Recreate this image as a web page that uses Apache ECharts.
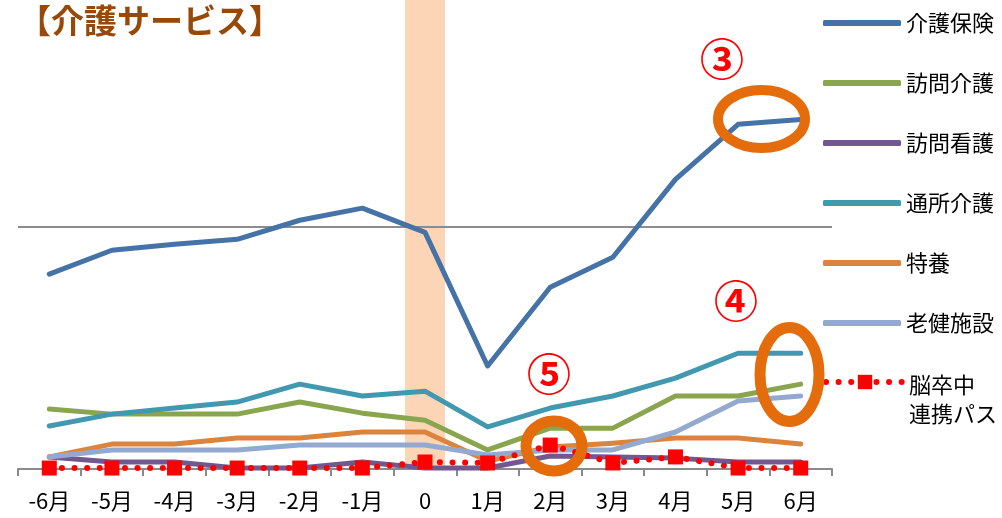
<!DOCTYPE html>
<html>
<head>
<meta charset="utf-8">
<script src="https://cdn.jsdelivr.net/npm/echarts@6/dist/echarts.min.js"></script>
<style>
html,body{margin:0;padding:0;background:#fff;}
#chart{width:1002px;height:518px;}
</style>
</head>
<body>
<div id="chart"></div>
<script>
// ---- data (index: gray reference line = 100) ----
const categories = ['-6月','-5月','-4月','-3月','-2月','-1月','0','1月','2月','3月','4月','5月','6月'];
const kaigoHoken   = [80.6, 90.5, 93.0, 95.0, 102.9, 107.9, 97.9, 42.6, 75.2, 87.6, 119.8, 142.6, 144.6];
const houmonKaigo  = [24.8, 22.7, 22.7, 22.7, 27.7, 23.1, 20.2, 7.9, 16.9, 16.9, 30.2, 30.2, 35.1];
const houmonKango  = [5.0, 2.9, 2.9, 0.4, 0.4, 2.9, 0.4, 0.4, 5.4, 5.0, 4.5, 2.9, 2.9];
const tsushoKaigo  = [17.8, 22.7, 25.2, 27.7, 35.1, 30.2, 32.2, 17.4, 25.2, 30.2, 37.6, 47.9, 47.9];
const tokuyou      = [5.0, 10.3, 10.3, 12.8, 12.8, 15.3, 15.3, 3.3, 9.1, 10.7, 12.8, 12.8, 10.3];
const rouken       = [5.0, 7.9, 7.9, 7.9, 9.9, 9.9, 9.9, 5.8, 7.9, 7.9, 15.3, 28.1, 30.2];
const noSotchu     = [0.4, 0.4, 0.4, 0.4, 0.4, 0.4, 2.9, 2.5, 9.9, 2.5, 5.0, 0.4, 0.4];
const referenceValue = 100;
const highlightCategory = '0';
const yMax = 194;

const FONT = '"Noto Sans CJK JP", "Noto Sans", sans-serif';
const chart = echarts.init(document.getElementById('chart'), null, {renderer: 'canvas'});

function lineSeries(name, data, color, extra) {
  return Object.assign({
    name: name,
    type: 'line',
    data: data,
    symbol: 'none',
    z: 3,
    silent: true,
    lineStyle: {color: color, width: 5, cap: 'round', join: 'round'},
    itemStyle: {color: color}
  }, extra || {});
}

const legendNames = ['介護保険','訪問介護','訪問看護','通所介護','特養','老健施設'];

const option = {
  animation: false,
  backgroundColor: '#ffffff',
  textStyle: {fontFamily: FONT},
  title: {
    text: '【介護サービス】',
    left: 18, top: 4, padding: 0,
    textStyle: {fontFamily: FONT, fontSize: 33, fontWeight: 'bold', color: '#984807'}
  },
  grid: {left: 18, right: 170, top: 0, bottom: 49, containLabel: false},
  legend: [{
    orient: 'vertical',
    left: 823, top: 11, padding: 0,
    itemWidth: 78, itemHeight: 6, itemGap: 36,
    icon: 'roundRect',
    selectedMode: false,
    data: legendNames,
    textStyle: {fontFamily: FONT, fontSize: 22, lineHeight: 24, color: '#000'}
  }, {
    orient: 'vertical',
    left: 823, top: 351, padding: 0,
    itemWidth: 78, itemHeight: 18,
    selectedMode: false,
    data: ['脳卒中連携パス'],
    lineStyle: {width: 6, type: [0.01, 12.6], cap: 'round', color: '#FF0000'},
    formatter: function () { return '{p| }\n{a|脳卒中}\n{a|連携パス}'; },
    textStyle: {
      fontFamily: FONT, fontSize: 22, color: '#000',
      rich: {
        p: {fontSize: 4, lineHeight: 35},
        a: {fontFamily: FONT, fontSize: 22, lineHeight: 29, color: '#000'}
      }
    }
  }],
  xAxis: {
    type: 'category',
    data: categories,
    boundaryGap: true,
    axisLine: {lineStyle: {color: '#8a8a8a', width: 2}},
    axisTick: {show: true, length: 7, lineStyle: {color: '#8a8a8a', width: 2}},
    axisLabel: {fontFamily: FONT, fontSize: 22, color: '#000', margin: 21}
  },
  yAxis: {
    type: 'value', min: 0, max: yMax,
    show: false,
    splitLine: {show: false}
  },
  series: [
    {
      name: 'band', type: 'bar', silent: true, z: 1,
      barWidth: 40,
      data: categories.map(c => c === highlightCategory ? yMax : null),
      itemStyle: {color: '#FBD5B5'}
    },
    lineSeries('介護保険', kaigoHoken, '#4572A7', {
      markLine: {
        silent: true, symbol: 'none', z: 2,
        label: {show: false},
        lineStyle: {color: '#8c8c8c', width: 2, type: 'solid'},
        data: [{yAxis: referenceValue}]
      }
    }),
    lineSeries('訪問介護', houmonKaigo, '#89A54E'),
    lineSeries('訪問看護', houmonKango, '#71588F'),
    lineSeries('通所介護', tsushoKaigo, '#4198AF'),
    lineSeries('特養', tokuyou, '#DB843D'),
    lineSeries('老健施設', rouken, '#93A9CF'),
    {
      name: '脳卒中連携パス', type: 'line', data: noSotchu, z: 4, silent: true,
      symbol: 'rect', symbolSize: 15, showSymbol: true,
      lineStyle: {color: '#FF0000', width: 6, type: [0.01, 12.6], cap: 'round'},
      itemStyle: {color: '#FF0000'}
    }
  ],
  graphic: [
    {type: 'ellipse', z: 100, silent: true, shape: {cx: 761.5, cy: 119, rx: 43.5, ry: 29}, style: {fill: 'none', stroke: '#E46C0A', lineWidth: 10}},
    {type: 'ellipse', z: 100, silent: true, shape: {cx: 789.5, cy: 374.5, rx: 29.5, ry: 47}, style: {fill: 'none', stroke: '#E46C0A', lineWidth: 11}},
    {type: 'ellipse', z: 100, silent: true, shape: {cx: 554, cy: 446, rx: 28, ry: 25}, style: {fill: 'none', stroke: '#E46C0A', lineWidth: 11}},
    {type: 'text', z: 101, silent: true, x: 722, y: 59, style: {text: '③', fill: '#FF0000', font: 'bold 44px ' + FONT, textAlign: 'center', textVerticalAlign: 'middle'}},
    {type: 'text', z: 101, silent: true, x: 736, y: 301, style: {text: '④', fill: '#FF0000', font: 'bold 44px ' + FONT, textAlign: 'center', textVerticalAlign: 'middle'}},
    {type: 'text', z: 101, silent: true, x: 549, y: 374, style: {text: '⑤', fill: '#FF0000', font: 'bold 44px ' + FONT, textAlign: 'center', textVerticalAlign: 'middle'}}
  ]
};
chart.setOption(option);
</script>
</body>
</html>
